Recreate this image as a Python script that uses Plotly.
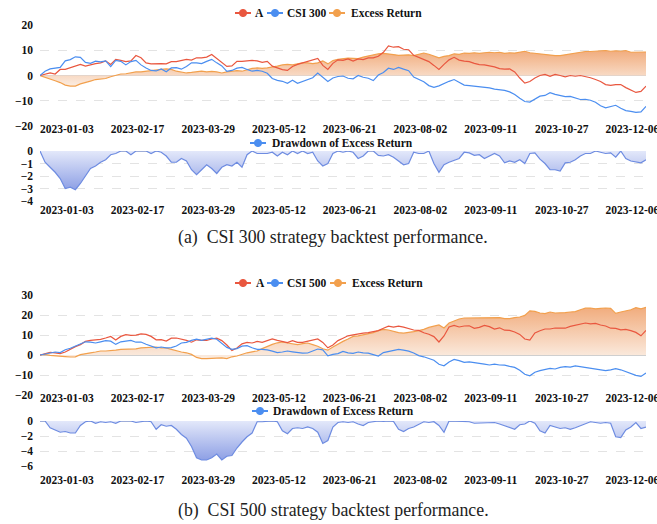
import plotly.graph_objects as go

# ---------------- data ----------------
MMDD = [
    "01-03", "01-05", "01-09", "01-11", "01-13", "01-17", "01-19", "01-30",
    "02-01", "02-03", "02-07", "02-09", "02-13", "02-15", "02-17", "02-21", "02-23", "02-27",
    "03-01", "03-03", "03-07", "03-09", "03-13", "03-15", "03-17", "03-21", "03-23", "03-27", "03-29", "03-31",
    "04-04", "04-07", "04-11", "04-13", "04-17", "04-19", "04-21", "04-25", "04-27",
    "05-04", "05-08", "05-10", "05-12", "05-16", "05-18", "05-22", "05-24", "05-26", "05-30",
    "06-01", "06-05", "06-07", "06-09", "06-13", "06-15", "06-19", "06-21", "06-27", "06-29",
    "07-03", "07-05", "07-07", "07-11", "07-13", "07-17", "07-19", "07-21", "07-25", "07-27", "07-31",
    "08-02", "08-04", "08-08", "08-10", "08-14", "08-16", "08-18", "08-22", "08-24", "08-28", "08-30",
    "09-01", "09-05", "09-07", "09-11", "09-13", "09-15", "09-19", "09-21", "09-25", "09-27",
    "10-09", "10-11", "10-13", "10-17", "10-19", "10-23", "10-25", "10-27", "10-31",
    "11-02", "11-06", "11-08", "11-10", "11-14", "11-16", "11-20", "11-22", "11-24", "11-28", "11-30",
    "12-04", "12-06", "12-08", "12-12", "12-14", "12-18", "12-20", "12-22", "12-26", "12-28",
]
DATES = ["2023-" + d for d in MMDD]

TICK_DATES = ["2023-01-03", "2023-02-17", "2023-03-29", "2023-05-12", "2023-06-21",
              "2023-08-02", "2023-09-11", "2023-10-27", "2023-12-06"]

A_300 = [0, 0.6, 1.0, 0.6, 2.4, 2.4, 3.0, 3.7, 4.4, 3.7,
         4.3, 4.7, 5.0, 5.8, 4.4, 6.4, 6.0, 5.5, 5.8, 7.9,
         7.0, 5.0, 4.6, 4.8, 4.7, 4.6, 5.5, 5.5, 6.0, 6.4,
         6.1, 7.0, 7.0, 7.3, 8.3, 6.7, 5.2, 3.6, 3.8, 5.6,
         5.6, 5.8, 6.0, 5.8, 5.2, 5.6, 3.7, 3.0, 2.3, 2.0,
         3.6, 4.4, 5.0, 5.5, 6.1, 6.8, 4.0, 2.4, 4.8, 6.2,
         6.0, 6.6, 5.7, 6.6, 6.3, 7.0, 7.0, 7.6, 9.2, 11.7,
         11.2, 11.4, 10.4, 10.2, 8.0, 7.1, 6.3, 5.5, 4.0, 2.4,
         4.4, 6.2, 7.2, 6.1, 5.7, 5.5, 4.8, 4.3, 4.2, 3.9,
         3.4, 2.7, 2.5, 2.6, 1.4, -1.0, -3.0, -2.4, -1.0, 0.0,
         0.4, -0.3, 0.4, 0.0, -0.5, 0.0, -0.3, 0.0, -0.4, -0.9,
         -1.6, -2.4, -3.6, -3.9, -3.6, -3.6, -4.8, -5.9, -6.7, -6.3, -4.2]

CSI_300 = [0, 1.7, 2.6, 2.8, 3.2, 5.8, 6.3, 7.4, 7.2, 5.2,
           4.8, 5.7, 5.4, 5.8, 3.5, 6.0, 5.6, 4.2, 5.5, 6.0,
           4.2, 3.0, 2.0, 1.8, 2.6, 1.5, 3.0, 3.1, 2.5, 3.6,
           5.0, 5.0, 4.7, 5.6, 6.4, 5.0, 3.8, 1.6, 2.0, 2.9,
           3.2, 2.4, 1.7, 2.0, 1.7, 0.9, -1.2, -1.9, -2.3, -3.1,
           -1.9, -3.1, -2.4, -1.7, -0.9, 1.0, -0.9, -2.4, -1.0, -0.4,
           -0.2, -1.1, -1.3, 0.0, -0.7, -1.1, -2.0, 0.2, 1.2, 2.9,
           2.4, 3.2, 2.5, 1.9, -0.6, -1.5, -2.5, -4.0, -4.7, -4.1,
           -3.1, -2.3, -1.6, -2.6, -3.8, -4.0, -4.2, -4.3, -4.7, -4.9,
           -5.4, -5.6, -5.9, -6.5, -7.5, -9.0, -10.3, -10.5, -9.3, -8.2,
           -7.9, -6.8, -7.5, -7.9, -8.4, -8.3, -8.8, -9.5, -9.4, -9.8,
           -10.6, -12.0, -12.8, -12.4, -11.8, -13.0, -13.9, -14.2, -14.6, -14.4, -12.2]

EXCESS_300 = [0, -0.8, -1.4, -2.1, -2.8, -3.8, -4.2, -4.2, -3.3, -2.6,
              -2.2, -1.6, -1.4, -1.2, -0.5, 0.2, 0.6, 0.7, 1.0, 1.4,
              1.4, 1.7, 2.1, 2.4, 2.4, 2.6, 2.4, 1.7, 1.4, 1.0,
              1.2, 1.4, 1.7, 1.4, 1.6, 1.4, 1.0, 1.4, 1.7, 1.9,
              1.7, 2.4, 2.8, 3.0, 2.8, 3.0, 3.3, 3.7, 4.2, 4.4,
              4.2, 4.7, 5.0, 5.0, 4.7, 5.0, 5.8, 4.6, 5.9, 6.4,
              6.6, 6.9, 6.8, 6.7, 7.3, 7.8, 8.2, 8.6, 8.8, 8.4,
              8.3, 8.0, 8.0, 8.2, 7.9, 8.3, 8.9, 8.4, 7.7, 7.0,
              7.6, 7.9, 8.6, 8.4, 8.9, 8.8, 9.0, 8.8, 9.0, 9.2,
              9.0, 9.2, 8.8, 9.0, 8.9, 9.2, 9.6, 9.0, 8.8, 8.4,
              8.3, 8.1, 7.9, 7.9, 8.2, 8.6, 8.9, 9.0, 9.5, 9.5,
              9.7, 9.7, 9.9, 9.6, 9.8, 9.6, 9.9, 9.2, 9.2, 9.0, 9.3]

DD_300 = [0, -0.9, -1.3, -1.7, -2.2, -3.0, -2.9, -3.1, -2.6, -2.0,
          -1.4, -1.2, -0.9, -0.7, -0.3, -0.2, 0, 0, -0.3, 0,
          0, 0, -0.2, 0, -0.1, -0.4, -0.9, -0.9, -0.6, -0.8,
          -1.5, -1.9, -1.5, -1.1, -1.4, -1.8, -1.3, -1.1, -1.2, -0.9,
          -1.3, -0.3, 0, -0.2, -0.2, -0.2, -0.1, -0.4, -0.1, -0.3,
          0, -0.2, 0, -0.2, -0.1, -0.8, -1.2, -1.0, -0.2, 0,
          -0.1, 0, -0.1, -0.6, -0.4, 0, 0, -0.35, -0.4, -0.3,
          -0.5, -0.8, -1.1, -1.0, -0.1, -0.2, -0.2, 0, -1.0, -1.7,
          -1.1, -0.9, -0.75, -0.6, -0.1, -0.15, -0.35, -0.3, -0.6, -0.4,
          -0.2, -0.4, -0.95, -0.8, -0.9, -0.7, -1.0, -0.2, -0.15, -0.65,
          -1.0, -1.5, -1.5, -1.6, -0.95, -0.9, -0.7, -0.4, -0.2, -0.2,
          0, -0.1, -0.2, -0.15, -0.5, 0, -0.6, -0.8, -0.85, -0.95, -0.7]

A_500 = [0, 0.7, 1.3, 1.1, 0.7, 1.5, 2.9, 4.2, 5.2, 6.8,
         7.3, 7.4, 7.8, 8.5, 9.3, 7.5, 9.3, 10.2, 9.8, 9.9,
         10.6, 10.3, 9.3, 7.6, 7.7, 7.0, 8.4, 8.5, 8.0, 7.3,
         6.4, 7.6, 7.3, 7.3, 8.0, 8.4, 7.2, 5.0, 2.3, 3.5,
         5.6, 6.3, 6.0, 6.8, 6.3, 7.3, 8.0, 7.3, 6.8, 6.2,
         7.2, 6.3, 6.3, 6.8, 7.3, 8.0, 6.3, 3.6, 5.0, 7.2,
         8.4, 9.6, 10.1, 10.6, 10.9, 11.2, 11.7, 12.2, 13.4, 14.4,
         13.9, 14.4, 13.9, 13.2, 12.5, 12.3, 11.1, 10.4, 9.2, 6.5,
         9.5, 14.0, 14.8, 14.0, 14.5, 14.6, 13.3, 13.8, 14.8, 14.2,
         13.0, 13.6, 12.4, 12.3, 11.5, 10.3, 8.0, 7.5, 11.0, 12.1,
         13.0, 13.0, 13.5, 13.4, 13.4, 14.3, 14.9, 15.4, 16.0, 15.6,
         15.8, 15.0, 14.5, 13.4, 13.3, 12.6, 12.8, 12.2, 11.3, 9.6, 12.3]

CSI_500 = [0, 0.6, 1.1, 1.5, 1.2, 2.6, 3.4, 4.4, 5.7, 6.6,
           6.4, 6.0, 6.6, 7.2, 6.9, 5.3, 6.6, 7.1, 7.3, 6.4,
           6.5, 5.4, 4.4, 3.6, 4.0, 3.6, 3.7, 4.5, 6.0, 6.3,
           7.3, 7.9, 7.3, 7.9, 8.4, 7.9, 6.0, 3.8, 2.8, 3.2,
           4.4, 4.7, 3.6, 2.8, 2.8, 2.6, 1.9, 1.2, 1.5, 2.0,
           1.6, 1.1, 0.9, 1.0, 2.0, 3.0, 2.6, -0.4, 0.3, 0.7,
           1.8, 1.1, 0.8, 1.5, 1.1, 0.9, 0.2, -0.5, 1.2, 1.7,
           2.4, 2.8, 2.4, 1.9, 1.0, -0.3, -0.9, -1.9, -2.6, -4.6,
           -5.4, -3.5, -2.2, -2.8, -3.7, -3.4, -3.7, -4.1, -4.6, -5.0,
           -4.6, -5.0, -5.1, -5.7, -6.2, -7.6, -9.6, -10.4, -8.6, -7.8,
           -7.3, -6.7, -7.0, -6.2, -5.8, -6.1, -5.4, -5.8, -6.3, -6.6,
           -6.8, -7.3, -7.8, -7.4, -6.8, -7.4, -8.4, -9.5, -10.2, -10.7, -9.0]

EXCESS_500 = [0, 0.3, -0.2, -0.5, -0.8, -0.8, -1.0, -0.9, 0.2, 0.8,
              1.1, 1.5, 2.0, 2.0, 2.1, 2.4, 2.8, 2.8, 2.9, 3.1,
              3.6, 3.7, 4.1, 4.0, 3.6, 3.5, 2.8, 2.0, 1.5, 1.1,
              0.3, -1.2, -1.8, -1.8, -1.7, -1.3, -1.4, -1.8, -0.9, -0.5,
              0.4, 1.1, 1.6, 2.0, 3.2, 4.4, 5.3, 6.1, 6.5, 6.0,
              5.7, 5.2, 5.7, 6.0, 5.2, 4.4, 3.1, 2.4, 4.0, 5.6,
              6.8, 8.0, 9.3, 9.6, 10.1, 10.9, 11.2, 12.2, 12.8, 12.5,
              11.7, 11.2, 10.9, 11.2, 11.7, 12.2, 12.8, 13.8, 14.5, 15.0,
              13.5, 16.0, 17.0, 18.0, 18.5, 18.5, 18.7, 18.7, 18.7, 18.7,
              18.7, 18.7, 18.2, 18.2, 18.7, 19.0, 19.8, 22.1, 21.8, 21.0,
              20.7, 21.5, 21.0, 21.0, 21.2, 21.5, 21.7, 22.6, 23.4, 23.5,
              23.1, 23.3, 23.5, 23.3, 20.8, 21.5, 22.2, 22.6, 23.7, 23.1, 23.8]

DD_500 = [0, 0, -0.9, -1.2, -1.5, -1.4, -1.6, -1.6, -0.6, -0.1,
          0, -0.3, -0.1, -0.2, -0.1, -0.3, 0, 0, 0, -0.2,
          -0.1, 0, -0.1, -1.1, -0.5, -0.7, -0.6, -1.1, -1.8, -2.3,
          -3.4, -4.9, -5.2, -5.2, -4.9, -4.4, -5.2, -4.7, -4.6, -3.6,
          -2.8, -2.1, -1.6, -0.1, -0.1, 0, 0, -0.1, -1.3, -1.7,
          -1.0, -0.9, -1.0, -0.8, -1.0, -1.5, -3.0, -2.6, -0.8, -0.2,
          -0.1, -0.2, -0.1, -0.4, -0.6, -0.2, -0.05, 0, -0.05, 0,
          -0.05, -1.1, -1.4, -1.0, -0.8, -0.4, -0.1, -0.2, -0.1, -0.6,
          -1.5, 0, 0, 0, 0, -0.1, -0.3, -0.3, -0.2, -0.3,
          -0.2, -0.4, -0.6, -0.9, -1.1, -0.5, -0.4, 0, -0.3, -1.3,
          -1.6, -0.6, -0.8, -1.0, -0.9, -1.1, -0.9, -0.6, -0.3, -0.1,
          -0.2, -0.3, -0.2, -0.3, -2.1, -2.2, -1.2, -0.8, -0.2, -1.0, -0.8]

# ---------------- styling ----------------
RED = "#e9573f"
BLUE = "#4b8ef0"
ORANGE = "#f2a04d"
DD_LINE = "#6e8ce1"
SERIF = "Liberation Serif"
W, H = 657, 524


def px_x(v):
    return v / W


def px_y(v):
    return 1 - v / H


EXCESS_SCALE = [[0, "rgb(251,237,226)"], [1, "rgb(241,172,125)"]]
DD_SCALE = [[0, "rgb(142,160,229)"], [1, "rgb(227,232,250)"]]

fig = go.Figure()


def panel(k, lines, fills):
    xa = "x" if k == 1 else f"x{k}"
    ya = "y" if k == 1 else f"y{k}"
    for vals, color, scale in fills:
        fig.add_trace(go.Scatter(
            x=DATES, y=vals, mode="lines", xaxis=xa, yaxis=ya,
            line=dict(color=color, width=1.2), fill="tozeroy",
            fillgradient=dict(type="vertical", colorscale=scale),
            showlegend=False, hoverinfo="skip"))
    for vals, color in lines:
        fig.add_trace(go.Scatter(
            x=DATES, y=vals, mode="lines", xaxis=xa, yaxis=ya,
            line=dict(color=color, width=1.2), showlegend=False, hoverinfo="skip"))


panel(1, [(A_300, RED), (CSI_300, BLUE)], [(EXCESS_300, ORANGE, EXCESS_SCALE)])
panel(2, [], [(DD_300, DD_LINE, DD_SCALE)])
panel(3, [(A_500, RED), (CSI_500, BLUE)], [(EXCESS_500, ORANGE, EXCESS_SCALE)])
panel(4, [], [(DD_500, DD_LINE, DD_SCALE)])

tickfont = dict(family=SERIF, size=11.5, color="#111", weight="bold")
xdom = [40 / W, 646 / W]

panels = {
    1: dict(top=25, bottom=126, rng=[-20, 20], ticks=[-20, -10, 0, 10, 20], standoff=-6),
    2: dict(top=151, bottom=201, rng=[-4, 0], ticks=[-4, -3, -2, -1, 0], standoff=0),
    3: dict(top=295, bottom=395, rng=[-20, 30], ticks=[-20, -10, 0, 10, 20, 30], standoff=-6),
    4: dict(top=421, bottom=466, rng=[-6, 0], ticks=[-6, -4, -2, 0], standoff=5),
}

layout = {}
for k, p in panels.items():
    xkey = "xaxis" if k == 1 else f"xaxis{k}"
    ykey = "yaxis" if k == 1 else f"yaxis{k}"
    ya = "y" if k == 1 else f"y{k}"
    xa = "x" if k == 1 else f"x{k}"
    layout[xkey] = dict(
        domain=xdom, anchor=ya, type="category", range=[0, len(DATES) - 1],
        tickmode="array", tickvals=TICK_DATES, ticktext=TICK_DATES,
        ticklabelposition="outside right", ticklabeloverflow="allow",
        ticklabelstandoff=p["standoff"], automargin=False,
        showgrid=False, zeroline=False, showline=False, ticks="",
        tickfont=tickfont, fixedrange=True)
    layout[ykey] = dict(
        domain=[px_y(p["bottom"]), px_y(p["top"])], anchor=xa, range=p["rng"],
        tickmode="array", tickvals=p["ticks"], showgrid=True, automargin=False,
        gridcolor="#e3e3e3", griddash="dash", gridwidth=1,
        zeroline=True, zerolinecolor="#cfcfcf", zerolinewidth=1,
        ticklabelstandoff=6,
        showline=False, ticks="", tickfont=tickfont, fixedrange=True)

# ---------------- hand-placed legends (icon: line + dot, bold text) ----------------
LEGENDS = [
    # (text, colour, icon left px, text left px, centre y px)
    ("A", RED, 235, 253, 13),
    ("CSI 300", BLUE, 267, 285, 13),
    ("Excess Return", ORANGE, 329, 349, 13),
    ("Drawdown of Excess Return", BLUE, 250, 270, 143),
    ("A", RED, 235, 254, 283),
    ("CSI 500", BLUE, 267, 285, 283),
    ("Excess Return", ORANGE, 330, 350, 283),
    ("Drawdown of Excess Return", BLUE, 252, 271, 411),
]
ICON_LEN = 16
DOT_R = 3.6

shapes = []
annotations = []
for text, color, ix, tx, cy in LEGENDS:
    shapes.append(dict(type="line", xref="paper", yref="paper",
                       x0=px_x(ix), x1=px_x(ix + ICON_LEN), y0=px_y(cy), y1=px_y(cy),
                       line=dict(color=color, width=2)))
    cx = ix + ICON_LEN / 2
    shapes.append(dict(type="circle", xref="paper", yref="paper",
                       x0=px_x(cx - DOT_R), x1=px_x(cx + DOT_R),
                       y0=px_y(cy + DOT_R), y1=px_y(cy - DOT_R),
                       fillcolor=color, line=dict(color=color, width=1)))
    annotations.append(dict(text=text, x=px_x(tx), y=px_y(cy), xref="paper", yref="paper",
                            xanchor="left", yanchor="middle", showarrow=False,
                            font=dict(family=SERIF, size=11.5, color="#111", weight="bold")))

for text, cy in [("(a)\u00a0\u00a0CSI 300 strategy backtest performance.", 238),
                 ("(b)\u00a0\u00a0CSI 500 strategy backtest performance.", 510)]:
    annotations.append(dict(text=text, x=px_x(333), y=px_y(cy), xref="paper", yref="paper",
                            showarrow=False, xanchor="center", yanchor="middle",
                            font=dict(family=SERIF, size=17.8, color="#222")))

fig.update_layout(
    width=W, height=H, margin=dict(l=0, r=0, t=0, b=0, autoexpand=False),
    paper_bgcolor="white", plot_bgcolor="white", showlegend=False,
    shapes=shapes, annotations=annotations,
    **layout,
)

fig.write_html("out.html", config={"displayModeBar": False, "staticPlot": True},
               post_script="document.body.style.margin='0';")
